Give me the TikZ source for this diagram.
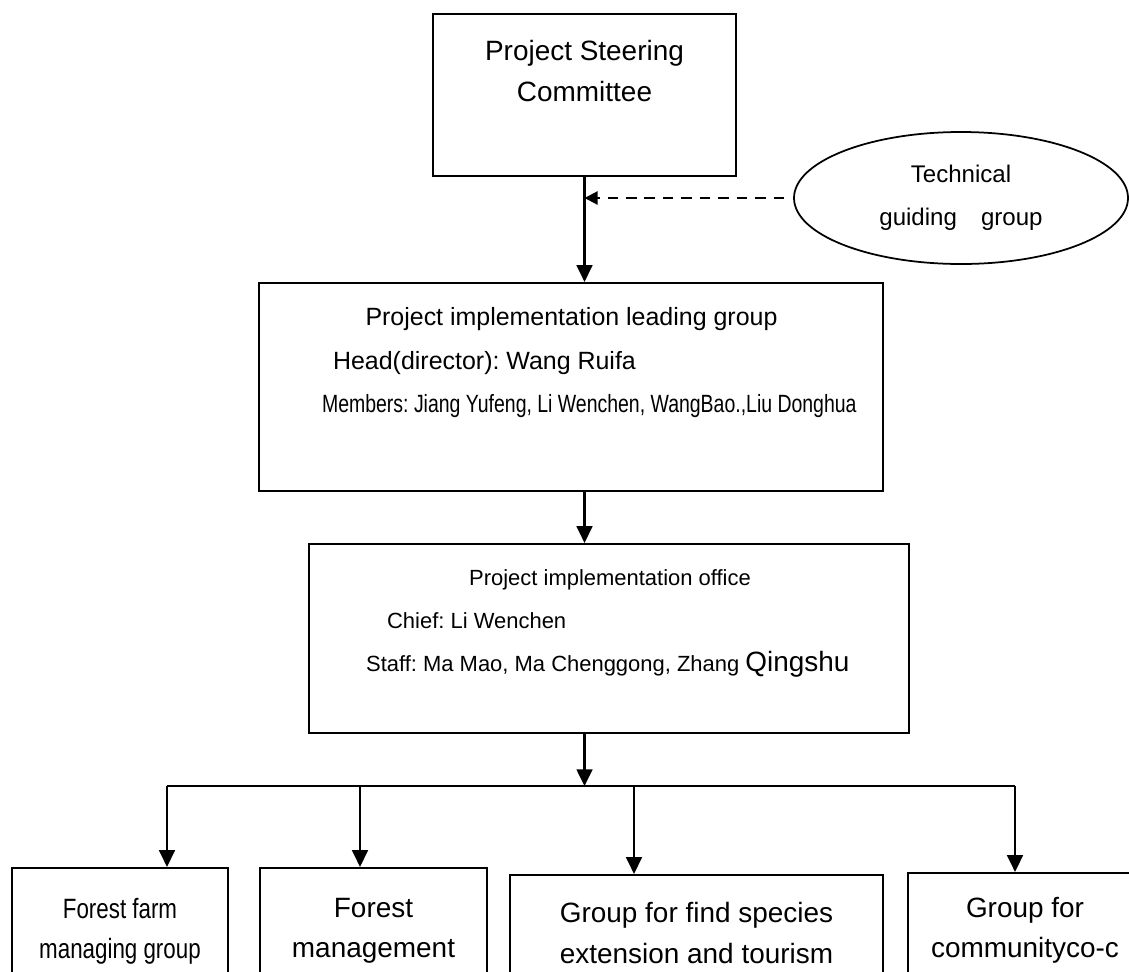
\documentclass[tikz,border=0pt]{standalone}
\RequirePackage{fontspec}
\setmainfont{Liberation Sans}
\RequirePackage{graphicx}
\RequirePackage{tikz}
\usetikzlibrary{arrows.meta}
\usetikzlibrary{shapes.geometric}
\frenchspacing

\begin{document}
\begin{tikzpicture}[>={Triangle[width=9pt,length=9.5pt]},x=0.2mm,y=-0.2mm,line width=1.25pt,
                    box/.style={draw,inner sep=0pt},
                    txt/.style={inner sep=0pt,anchor=base west},
                    ctxt/.style={inner sep=0pt,anchor=base}]
                        \useasboundingbox (0,0) rectangle (1129,971);
                        \clip (0,0) rectangle (1129,971);
                        \node[box,minimum width=60.6mm,minimum height=32.4mm] (steer) at (584.5,95) {};
                        \node[ctxt,font=\fontsize{15.9}{19}\selectfont] at (584.5,60) {Project Steering};
                        \node[ctxt,font=\fontsize{15.9}{19}\selectfont] at (584.5,101) {Committee};
                        \node[box,ellipse,line width=1pt,minimum width=66.8mm,minimum height=26.4mm,align=center,
                              font=\fontsize{13.7}{24.5}\selectfont] (tech) at (961,198) {Technical\\guiding\hspace{1em}group};
                        \draw[->,dash pattern=on 6pt off 4.5pt,>={Triangle[width=7.5pt,length=7.5pt]}]
                            ([xshift=-1.8mm]tech.west) -- (steer.south |- tech.west);
                        \node[box,minimum width=124.8mm,minimum height=41.6mm] (lead) at (571,387) {};
                        \node[ctxt,font=\fontsize{14.2}{17}\selectfont] at (571.5,325) {Project implementation leading group};
                        \node[txt,font=\fontsize{14.2}{17}\selectfont] at (332,369) {Head(director): Wang Ruifa};
                        \node[txt,font=\fontsize{14.2}{17}\selectfont] at (321,412)
                            {\scalebox{0.78}[1]{Members: Jiang Yufeng, Li Wenchen, WangBao.,Liu Donghua}};
                        \draw[->] (steer.south) -- (steer.south |- lead.north);
                        \node[box,minimum width=120mm,minimum height=37.8mm] (office) at (609,638.5) {};
                        \node[ctxt,font=\fontsize{12.5}{15}\selectfont] at (610,585) {Project implementation office};
                        \node[txt,font=\fontsize{12.5}{15}\selectfont] at (386,628) {Chief: Li Wenchen};
                        \node[txt,font=\fontsize{12.5}{15}\selectfont] at (365,671)
                            {Staff: Ma Mao, Ma Chenggong, Zhang {\fontsize{15.9}{19}\selectfont Qingshu}};
                        \draw[->] (steer.south |- lead.south) -- (steer.south |- office.north);
                        \coordinate (bus) at (584.5,786);
                        \coordinate (d1) at (167,786);
                        \coordinate (d2) at (360,786);
                        \coordinate (d3) at (634,786);
                        \coordinate (d4) at (1015,786);
                        \draw[->] (bus |- office.south) -- (bus);
                        \draw (d1) -- (d4);
                        \node[box,minimum width=43.2mm,minimum height=25.2mm,align=center,
                              font=\fontsize{15.9}{22.8}\selectfont] (farm) at (120,931)
                            {\scalebox{0.8}[1]{Forest farm}\\\scalebox{0.8}[1]{managing group}};
                        \node[box,minimum width=45.4mm,minimum height=25.2mm,align=center,
                              font=\fontsize{15.9}{22.8}\selectfont] (manage) at (373.5,931) {Forest\\management};
                        \node[box,minimum width=74.6mm,minimum height=23.2mm,align=center,
                              font=\fontsize{15.9}{22.8}\selectfont] (tour) at (696.5,933)
                            {Group for find species\\extension and tourism};
                        \node[box,minimum width=46.8mm,minimum height=22.8mm,align=center,
                              font=\fontsize{15.9}{22.8}\selectfont] (comm) at (1025,930) {Group for\\communityco-c};
                        \draw[->] (d1) -- (d1 |- farm.north);
                        \draw[->] (d2) -- (d2 |- manage.north);
                        \draw[->] (d3) -- (d3 |- tour.north);
                        \draw[->] (d4) -- (d4 |- comm.north);
                    \end{tikzpicture}
\end{document}
